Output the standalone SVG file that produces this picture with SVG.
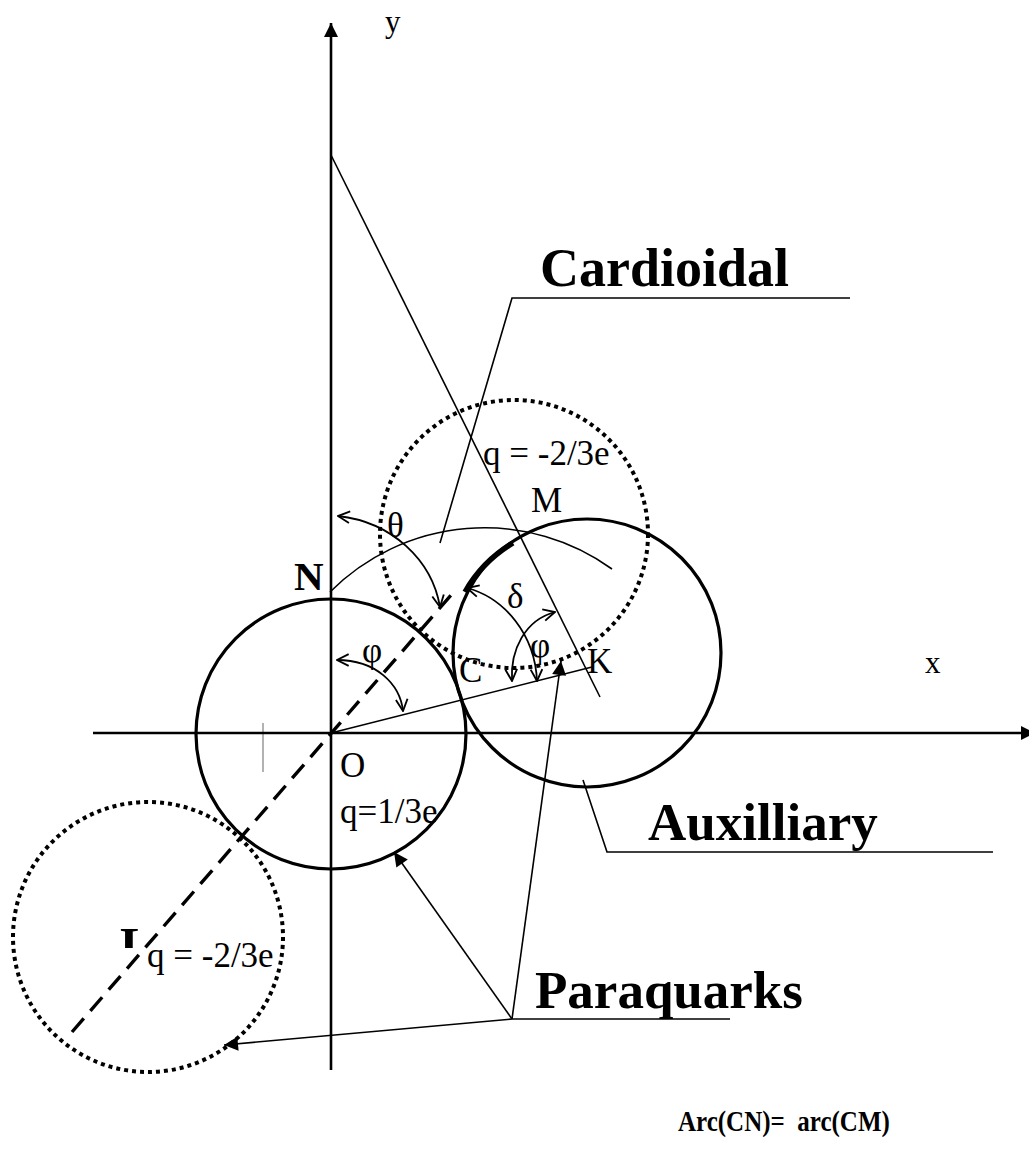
<svg xmlns="http://www.w3.org/2000/svg" width="1029" height="1160" viewBox="0 0 1029 1160">
<style>
.ln{fill:none;stroke:#000;stroke-width:1.6}
.ax{fill:none;stroke:#000;stroke-width:2.6}
.thick{fill:none;stroke:#000;stroke-width:3.2}
.dot{fill:none;stroke:#000;stroke-width:4;stroke-dasharray:4 4}
.dash{fill:none;stroke:#000;stroke-width:3.4;stroke-dasharray:18 10}
.ang{fill:none;stroke:#000;stroke-width:1.8;marker-start:url(#open);marker-end:url(#open)}
.t{font-family:"Liberation Serif","Times New Roman",serif;font-size:35px;fill:#000}
.b{font-family:"Liberation Serif","Times New Roman",serif;font-weight:bold;fill:#000}
</style>
<defs>
<marker id="fill" viewBox="0 0 10 10" refX="10" refY="5" markerWidth="16" markerHeight="14" markerUnits="userSpaceOnUse" orient="auto"><path d="M0,0 L10,5 L0,10 Z" fill="#000"/></marker>
<marker id="open" viewBox="0 0 12 12" refX="11" refY="6" markerWidth="14" markerHeight="14" markerUnits="userSpaceOnUse" orient="auto-start-reverse"><path d="M1,1 L11,6 L1,11" fill="none" stroke="#000" stroke-width="1.6"/></marker>
<clipPath id="clipL"><rect x="100" y="900" width="60" height="48"/></clipPath>
</defs>

<g id="circles">
<circle id="circle-O" class="thick" cx="331" cy="734" r="135"/>
<circle id="circle-aux" class="thick" cx="587" cy="653" r="134"/>
<circle id="circle-top" class="dot" cx="514" cy="534" r="134"/>
<circle id="circle-L" class="dot" cx="148" cy="937" r="135"/>
<path id="arc-CM" d="M465,592 A134,134 0 0 1 513,543" fill="none" stroke="#000" stroke-width="5.5"/>
<path id="cardioid" class="ln" d="M330,592 A218,218 0 0 1 612,569"/>
<line id="grey-mark" x1="263" y1="723" x2="263" y2="772" stroke="#999" stroke-width="1.5"/>
</g>

<g id="connectors">
<line class="ax" x1="331" y1="1070" x2="331" y2="23" marker-end="url(#fill)"/>
<line class="ax" x1="93" y1="733" x2="1035" y2="733" marker-end="url(#fill)"/>
<line class="dash" x1="72" y1="1032" x2="452" y2="594"/>
<line class="ln" x1="331" y1="155" x2="600" y2="697"/>
<line class="ln" x1="331" y1="733" x2="592" y2="667"/>
<polyline class="ln" points="850,298 512,298 440,543"/>
<polyline class="ln" points="583,780 607,852 993,852"/>
<line class="ln" x1="512" y1="1019" x2="730" y2="1019"/>
<line class="ln" x1="512" y1="1019" x2="394" y2="852" stroke-width="2" marker-end="url(#fill)"/>
<line class="ln" x1="512" y1="1019" x2="561" y2="661" stroke-width="2" marker-end="url(#fill)"/>
<line class="ln" x1="512" y1="1019" x2="224" y2="1045" stroke-width="2" marker-end="url(#fill)"/>
<path class="ang" d="M338,516 C392,522 432,560 440,607"/>
<path class="ang" d="M337,660 C376,660 400,684 403,711"/>
<path class="ang" d="M467,588 C505,598 535,635 537,681"/>
<path class="ang" d="M555,612 C525,620 510,650 512,681"/>
</g>

<g id="labels">
<text class="t" x="385" y="32" style="font-size:31px">y</text>
<text class="t" x="925" y="673" style="font-size:31px">x</text>
<text class="t" x="483" y="465">q = -2/3e</text>
<text class="t" x="531" y="512">M</text>
<text class="b" x="294" y="590" style="font-size:41px">N</text>
<text class="t" x="387" y="537">θ</text>
<text class="t" x="507" y="608">δ</text>
<text class="t" x="362" y="662">φ</text>
<text class="t" x="530" y="657">φ</text>
<text class="t" x="459" y="682">C</text>
<text class="t" x="587" y="673">K</text>
<text class="t" x="340" y="777">O</text>
<text class="t" x="340" y="823">q=1/3e</text>
<text class="b" x="120" y="962" style="font-size:50px" clip-path="url(#clipL)">L</text>
<text class="t" x="147" y="967">q = -2/3e</text>
</g>

<g id="titles">
<text class="b" x="540" y="286" style="font-size:54px">Cardioidal</text>
<text class="b" x="648" y="840" style="font-size:53px">Auxilliary</text>
<text class="b" x="535" y="1008" style="font-size:53px">Paraquarks</text>
<text class="b" transform="translate(678,1131) scale(1,1.15)" style="font-size:25px" xml:space="preserve">Arc(CN)=  arc(CM)</text>
</g>
</svg>
